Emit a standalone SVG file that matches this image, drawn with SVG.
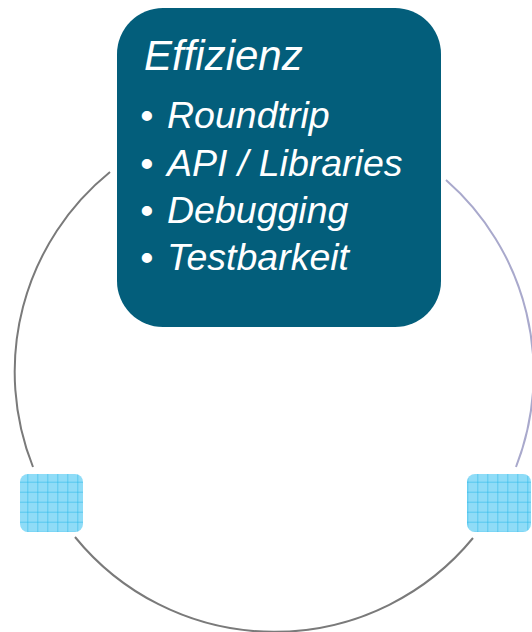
<svg xmlns="http://www.w3.org/2000/svg" width="532" height="632" viewBox="0 0 532 632">
<defs>
<pattern id="grid" x="7.3" y="1.7" width="10" height="10" patternUnits="userSpaceOnUse">
<rect width="10" height="10" fill="#8fdcf7"/>
<path d="M0 0H10M0 0V10" stroke="#1fb5e8" stroke-width="1"/>
</pattern>
</defs>
<style>
.arc{fill:none;stroke-width:2}
.t{font-family:"Liberation Sans",Arial,sans-serif;font-style:italic;fill:#ffffff}
.sq{fill:url(#grid)}
</style>
<g id="connectors">
<path class="arc" stroke="#7a7a7a" d="M110 172 A257 257 0 0 0 33 467"/>
<path class="arc" stroke="#7a7a7a" d="M75 537 A257 257 0 0 0 473 538"/>
<path class="arc" stroke="#a9a9cc" d="M516 467 A257 257 0 0 0 446 180"/>
</g>
<g id="effizienz">
<rect x="117" y="8" width="324" height="319" rx="46" fill="#035e7b"/>
<text class="t" x="144" y="70" font-size="42">Effizienz</text>
<g class="t" font-size="37.5">
<text x="140" y="128">•</text><text x="167" y="128">Roundtrip</text>
<text x="140" y="175.5">•</text><text x="167" y="175.5">API / Libraries</text>
<text x="140" y="223">•</text><text x="167" y="223">Debugging</text>
<text x="140" y="270">•</text><text x="167" y="270">Testbarkeit</text>
</g>
</g>
<g id="left-node">
<rect class="sq" x="20" y="474" width="63" height="58" rx="8"/>
</g>
<g id="right-node">
<rect class="sq" x="467" y="474" width="64" height="58" rx="8"/>
</g>
</svg>
